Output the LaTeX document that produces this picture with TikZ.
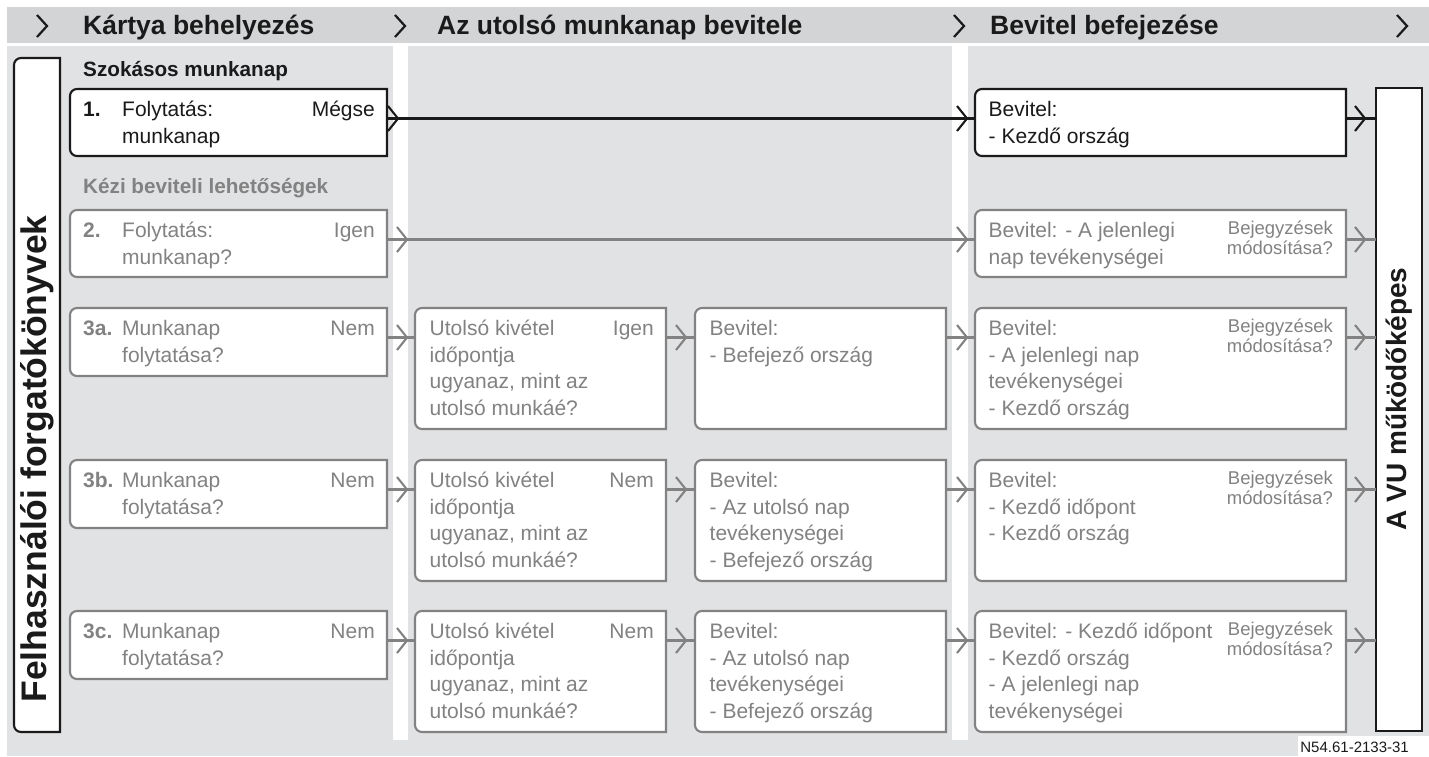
\documentclass[tikz,border=0pt]{standalone}
\usepackage{fontspec}
\setmainfont{Liberation Sans}
\usetikzlibrary{decorations.markings,calc}
\definecolor{hdr}{RGB}{211,212,214}
\definecolor{pnl}{RGB}{225,226,228}
\definecolor{gtx}{RGB}{130,130,130}
\definecolor{blk}{RGB}{26,26,26}
\newcommand\chevshape{\draw[solid,line cap=butt,line join=miter] (-10pt,12.5pt) -- (0pt,0pt) -- (-10pt,-12.5pt);}
\newcommand\mkbox[6]{%
  \node[boxnode, minimum width={#4-(#2)}, minimum height={#5-(#3)}] (#1) at (#2,#3) {};
  \draw[boxline=#6] (#1.north) -- (#1.north west) -- (#1.south west) -- (#1.south) [sharp corners] -- (#1.south east) -- (#1.north east) -- cycle;
}
\newcommand\ltext[4]{\node[txt=#2, anchor=base west] at ([xshift=#3pt,yshift=-27.5pt]#1.north west) {\begin{tabular}[t]{@{}l@{}}#4\end{tabular}};}
\newcommand\rtext[3]{\node[txt=#2, anchor=base east] at ([xshift=-12pt,yshift=-27.5pt]#1.north east) {#3};}
\newcommand\stext[2]{\node[stxt=#2, anchor=base east] at ([xshift=-13pt,yshift=-24pt]#1.north east) {\begin{tabular}[t]{@{}r@{}}Bejegyzések\\módosítása?\end{tabular}};}
\begin{document}
\begin{tikzpicture}[x=1pt,y=-1pt,
  boxnode/.style={inner sep=0pt, outer sep=0pt, anchor=north west},
  boxline/.style={draw=#1, line width=2.1pt, fill=white, rounded corners=7pt},
  txt/.style={inner sep=0pt, font=\fontsize{21}{26.7}\selectfont, text=#1},
  stxt/.style={inner sep=0pt, font=\fontsize{18.5}{20}\selectfont, text=#1},
  htxt/.style={inner sep=0pt, font=\fontsize{26.5}{30}\selectfont\bfseries, text=blk},
  lbl/.style={inner sep=0pt, font=\fontsize{20.7}{24}\selectfont\bfseries, text=#1},
  hchev/.style={draw=blk, line width=2.2pt, line join=miter},
  conn/.style={color=#1, line width=2.1pt},
  chevend/.style={postaction={decorate}, decoration={markings, mark=at position -#1 with {\chevshape}}},
  chevboth/.style 2 args={postaction={decorate}, decoration={markings, mark=at position #1 with {\chevshape}, mark=at position -#2 with {\chevshape}}}
]
\fill[white] (0,0) rectangle (1429,756);
\useasboundingbox (0,0) rectangle (1429,756);
% background
\fill[hdr] (7,7) rectangle (1429,43);
\fill[pnl] (7,46) rectangle (1429,756);
\fill[white] (393,43) rectangle (408,740);
\fill[white] (952,43) rectangle (968,740);
\fill[white] (1298,736) rectangle (1429,756);
% header
\draw[hchev] (37,15) -- (47,26) -- (37,37);
\draw[hchev] (395,15) -- (405,26) -- (395,37);
\draw[hchev] (954,15) -- (964,26) -- (954,37);
\draw[hchev] (1397,15) -- (1407,26) -- (1397,37);
\node[htxt, anchor=base west] (h1) at (83,34.5) {Kártya behelyezés};
\node[htxt, anchor=base west] (h2) at (437,34.5) {Az utolsó munkanap bevitele};
\node[htxt, anchor=base west] (h3) at (990,34.5) {Bevitel befejezése};
% side boxes
\mkbox{left}{14}{58}{60}{732}{blk}
\node[boxnode, minimum width=46, minimum height=643] (vu) at (1376,88) {};
\draw[draw=blk, line width=2.1pt, fill=white] (vu.north west) rectangle (vu.south east);
\node[rotate=90, inner sep=0pt, font=\fontsize{35.5}{38}\selectfont\bfseries, text=blk] (lt) at (37.5,459) {Felhasználói forgatókönyvek};
\node[rotate=90, inner sep=0pt, font=\fontsize{28}{30}\selectfont\bfseries, text=blk] (vt) at (1399,399) {A VU működőképes};
% section labels
\node[lbl=blk, anchor=base west] (l1) at (83,76) {Szokásos munkanap};
\node[lbl=gtx, anchor=base west] (l2) at (83,193) {Kézi beviteli lehetőségek};
% row 1
\mkbox{b1}{70}{89}{387}{156}{blk}
\ltext{b1}{blk}{13}{\textbf{1.}}
\ltext{b1}{blk}{52}{Folytatás:\\munkanap}
\rtext{b1}{blk}{Mégse}
\mkbox{e1}{975}{89}{1346}{156}{blk}
\ltext{e1}{blk}{13.5}{Bevitel:\\- Kezdő ország}
% row 2
\mkbox{b2}{70}{210}{387}{277}{gtx}
\ltext{b2}{gtx}{13}{\textbf{2.}}
\ltext{b2}{gtx}{52}{Folytatás:\\munkanap?}
\rtext{b2}{gtx}{Igen}
\mkbox{e2}{975}{210}{1346}{277}{gtx}
\ltext{e2}{gtx}{13.5}{Bevitel: - A jelenlegi\\nap tevékenységei}
\stext{e2}{gtx}
% row 3a
\mkbox{b3a}{70}{308}{387}{376}{gtx}
\ltext{b3a}{gtx}{13}{\textbf{3a.}}
\ltext{b3a}{gtx}{52}{Munkanap\\folytatása?}
\rtext{b3a}{gtx}{Nem}
\mkbox{u3a}{415}{308}{666}{429}{gtx}
\ltext{u3a}{gtx}{14.5}{Utolsó kivétel\\időpontja\\ugyanaz, mint az\\utolsó munkáé?}
\rtext{u3a}{gtx}{Igen}
\mkbox{m3a}{695}{308}{946}{429}{gtx}
\ltext{m3a}{gtx}{14.5}{Bevitel:\\- Befejező ország}
\mkbox{e3a}{975}{308}{1346}{429}{gtx}
\ltext{e3a}{gtx}{13.5}{Bevitel:\\- A jelenlegi nap\\tevékenységei\\- Kezdő ország}
\stext{e3a}{gtx}
% row 3b
\mkbox{b3b}{70}{460}{387}{528}{gtx}
\ltext{b3b}{gtx}{13}{\textbf{3b.}}
\ltext{b3b}{gtx}{52}{Munkanap\\folytatása?}
\rtext{b3b}{gtx}{Nem}
\mkbox{u3b}{415}{460}{666}{581}{gtx}
\ltext{u3b}{gtx}{14.5}{Utolsó kivétel\\időpontja\\ugyanaz, mint az\\utolsó munkáé?}
\rtext{u3b}{gtx}{Nem}
\mkbox{m3b}{695}{460}{946}{581}{gtx}
\ltext{m3b}{gtx}{14.5}{Bevitel:\\- Az utolsó nap\\tevékenységei\\- Befejező ország}
\mkbox{e3b}{975}{460}{1346}{581}{gtx}
\ltext{e3b}{gtx}{13.5}{Bevitel:\\- Kezdő időpont\\- Kezdő ország}
\stext{e3b}{gtx}
% row 3c
\mkbox{b3c}{70}{611}{387}{679}{gtx}
\ltext{b3c}{gtx}{13}{\textbf{3c.}}
\ltext{b3c}{gtx}{52}{Munkanap\\folytatása?}
\rtext{b3c}{gtx}{Nem}
\mkbox{u3c}{415}{611}{666}{732}{gtx}
\ltext{u3c}{gtx}{14.5}{Utolsó kivétel\\időpontja\\ugyanaz, mint az\\utolsó munkáé?}
\rtext{u3c}{gtx}{Nem}
\mkbox{m3c}{695}{611}{946}{732}{gtx}
\ltext{m3c}{gtx}{14.5}{Bevitel:\\- Az utolsó nap\\tevékenységei\\- Befejező ország}
\mkbox{e3c}{975}{611}{1346}{732}{gtx}
\ltext{e3c}{gtx}{13.5}{Bevitel: - Kezdő időpont\\- Kezdő ország\\- A jelenlegi nap\\tevékenységei}
\stext{e3c}{gtx}
% connectors
\coordinate (r1) at ([yshift=-29.5pt]b1.north east);
\coordinate (r2) at ([yshift=-29.5pt]b2.north east);
\coordinate (r3) at ([yshift=-29.5pt]b3a.north east);
\coordinate (r4) at ([yshift=-29.5pt]b3b.north east);
\coordinate (r5) at ([yshift=-29.5pt]b3c.north east);
\draw[conn=blk, chevboth={11pt}{8pt}] (r1) -- (r1 -| e1.west);
\draw[conn=blk, chevend=11pt] (r1 -| e1.east) -- (r1 -| vu.west);
\draw[conn=gtx, chevboth={20pt}{8pt}] (r2) -- (r2 -| e2.west);
\draw[conn=gtx, chevend=11pt] (r2 -| e2.east) -- (r2 -| vu.west);
\draw[conn=gtx, chevend=8pt] (r3) -- (r3 -| u3a.west);
\draw[conn=gtx, chevend=9pt] (r3 -| u3a.east) -- (r3 -| m3a.west);
\draw[conn=gtx, chevend=8pt] (r3 -| m3a.east) -- (r3 -| e3a.west);
\draw[conn=gtx, chevend=11pt] (r3 -| e3a.east) -- (r3 -| vu.west);
\draw[conn=gtx, chevend=8pt] (r4) -- (r4 -| u3b.west);
\draw[conn=gtx, chevend=9pt] (r4 -| u3b.east) -- (r4 -| m3b.west);
\draw[conn=gtx, chevend=8pt] (r4 -| m3b.east) -- (r4 -| e3b.west);
\draw[conn=gtx, chevend=11pt] (r4 -| e3b.east) -- (r4 -| vu.west);
\draw[conn=gtx, chevend=8pt] (r5) -- (r5 -| u3c.west);
\draw[conn=gtx, chevend=9pt] (r5 -| u3c.east) -- (r5 -| m3c.west);
\draw[conn=gtx, chevend=8pt] (r5 -| m3c.east) -- (r5 -| e3c.west);
\draw[conn=gtx, chevend=11pt] (r5 -| e3c.east) -- (r5 -| vu.west);
% code label
\node[inner sep=0pt, anchor=base east, font=\fontsize{15}{17}\selectfont, text=blk] (code) at (1409,752) {N54.61-2133-31};
\end{tikzpicture}
\end{document}
